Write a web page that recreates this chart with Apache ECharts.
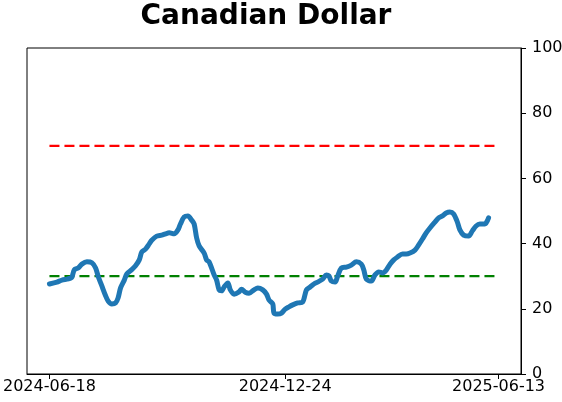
<!DOCTYPE html>
<html>
<head>
<meta charset="utf-8">
<script src="https://cdn.jsdelivr.net/npm/echarts@6/dist/echarts.min.js"></script>
<style>
  html, body { margin: 0; padding: 0; background: #fff; }
  #chart { width: 562px; height: 402px; }
</style>
</head>
<body>
<div id="chart"></div>
<script>
// series start date, the points are day offsets from it
const startDate = '2024-06-18'
const dayOffsets = [0, 6, 10, 14, 17, 18, 20, 23, 26, 30, 34, 37, 39, 42, 45, 47, 50, 53, 55, 57,
  60, 62, 66, 69, 72, 74, 77, 80, 82, 86, 90, 93, 96, 100, 103, 105, 108, 111, 114, 116,
  118, 120, 124, 126, 128, 132, 134, 136, 138, 140, 143, 145, 148, 152, 154, 157, 160, 164, 167, 171,
  174, 176, 179, 180, 183, 186, 189, 192, 195, 199, 203, 206, 209, 212, 215, 219, 222, 224, 226, 229,
  231, 234, 238, 242, 246, 250, 252, 254, 258, 261, 264, 267, 270, 273, 276, 279, 283, 286, 289, 293,
  296, 299, 302, 305, 309, 312, 315, 318, 321, 324, 327, 329, 332, 336, 339, 342, 345, 349, 352]
const values = [27.6, 28.2, 28.8, 29.1, 29.4, 29.7, 32.0, 32.5, 33.7, 34.4, 34.1, 32.5, 30.0, 27.0, 24.0, 22.4, 21.5, 21.8, 23.3, 26.4,
  28.8, 30.7, 32.0, 33.2, 35.0, 37.4, 38.3, 39.9, 41.0, 42.3, 42.6, 43.0, 43.3, 43.0, 44.2, 46.0, 48.2, 48.5, 47.2, 46.0,
  41.7, 39.3, 37.1, 35.0, 34.4, 30.4, 28.8, 25.8, 25.5, 26.7, 27.9, 25.8, 24.5, 25.2, 26.0, 25.1, 24.8, 25.8, 26.4, 25.8,
  24.5, 22.7, 21.5, 18.7, 18.4, 18.7, 19.9, 20.6, 21.2, 21.8, 22.1, 25.8, 26.7, 27.6, 28.2, 29.1, 30.4, 30.1, 28.5, 28.2,
  30.0, 32.5, 32.8, 33.4, 34.4, 33.7, 31.9, 29.1, 28.5, 30.4, 31.3, 31.0, 31.9, 33.7, 35.0, 35.9, 36.8, 36.8, 37.1, 38.0,
  39.6, 41.4, 43.3, 44.8, 46.6, 47.9, 48.5, 49.4, 49.7, 49.1, 46.6, 44.2, 42.6, 42.3, 43.9, 45.4, 46.0, 46.0, 47.9]
const xTickDates = ['2024-06-18', '2024-12-24', '2025-06-13']
const yTicks = [0, 20, 40, 60, 80, 100]
const upperLevel = 70
const lowerLevel = 30

const DAY = 86400000
const t0 = Date.parse(startDate + 'T00:00:00Z')
const lineData = dayOffsets.map((d, i) => [d, values[i]])
// x ticks as day offsets from the start date
const tickDays = xTickDates.map((s) => Math.round((Date.parse(s + 'T00:00:00Z') - t0) / DAY))
const spanStart = tickDays[0]
const spanEnd = tickDays[tickDays.length - 1]
const pad = (spanEnd - spanStart) * 0.05
const levelSpan = [spanStart, spanEnd]

function fmtDate(days) {
  const d = new Date(t0 + Math.round(days) * DAY)
  const mm = String(d.getUTCMonth() + 1).padStart(2, '0')
  const dd = String(d.getUTCDate()).padStart(2, '0')
  return d.getUTCFullYear() + '-' + mm + '-' + dd
}

const chart = echarts.init(document.getElementById('chart'), null, { renderer: 'canvas' })
chart.setOption({
  animation: false,
  backgroundColor: '#ffffff',
  title: {
    text: 'Canadian Dollar',
    left: 261,
    top: -2,
    textAlign: 'center',
    textStyle: { fontFamily: 'DejaVu Sans', fontSize: 28, fontWeight: 'bold', color: '#000' },
  },
  grid: {
    left: 27,
    right: 41,
    top: 48,
    bottom: 28,
    outerBoundsMode: 'none',
    containLabel: false,
    show: true,
    borderColor: '#000',
    borderWidth: 1,
    backgroundColor: 'transparent',
  },
  xAxis: {
    type: 'value',
    min: spanStart - pad,
    max: spanEnd + pad,
    axisLine: { show: true, onZero: false, lineStyle: { color: '#000', width: 1 } },
    axisTick: { show: true, length: 5, lineStyle: { color: '#000' }, customValues: tickDays },
    splitLine: { show: false },
    axisLabel: {
      customValues: tickDays,
      formatter: (v) => fmtDate(v),
      color: '#000',
      fontFamily: 'DejaVu Sans',
      fontSize: 16,
      margin: 5,
      showMinLabel: true,
      showMaxLabel: true,
    },
  },
  yAxis: {
    type: 'value',
    position: 'right',
    min: yTicks[0],
    max: yTicks[yTicks.length - 1],
    interval: 20,
    axisLine: { show: true, onZero: false, lineStyle: { color: '#000', width: 1 } },
    axisTick: { show: true, length: 5, lineStyle: { color: '#000' } },
    splitLine: { show: false },
    axisLabel: { color: '#000', fontFamily: 'DejaVu Sans', fontSize: 16, margin: 11 },
  },
  series: [
    {
      type: 'line',
      data: levelSpan.map((d) => [d, upperLevel]),
      symbol: 'none',
      silent: true,
      lineStyle: { color: '#ff0000', width: 2.2, type: [10, 5] },
    },
    {
      type: 'line',
      data: levelSpan.map((d) => [d, lowerLevel]),
      symbol: 'none',
      silent: true,
      lineStyle: { color: '#008000', width: 2.2, type: [10, 5] },
    },
    {
      type: 'line',
      data: lineData,
      symbol: 'none',
      smooth: 0.3,
      lineStyle: { color: '#1f77b4', width: 5, cap: 'round', join: 'round' },
    },
  ],
})
</script>
</body>
</html>
